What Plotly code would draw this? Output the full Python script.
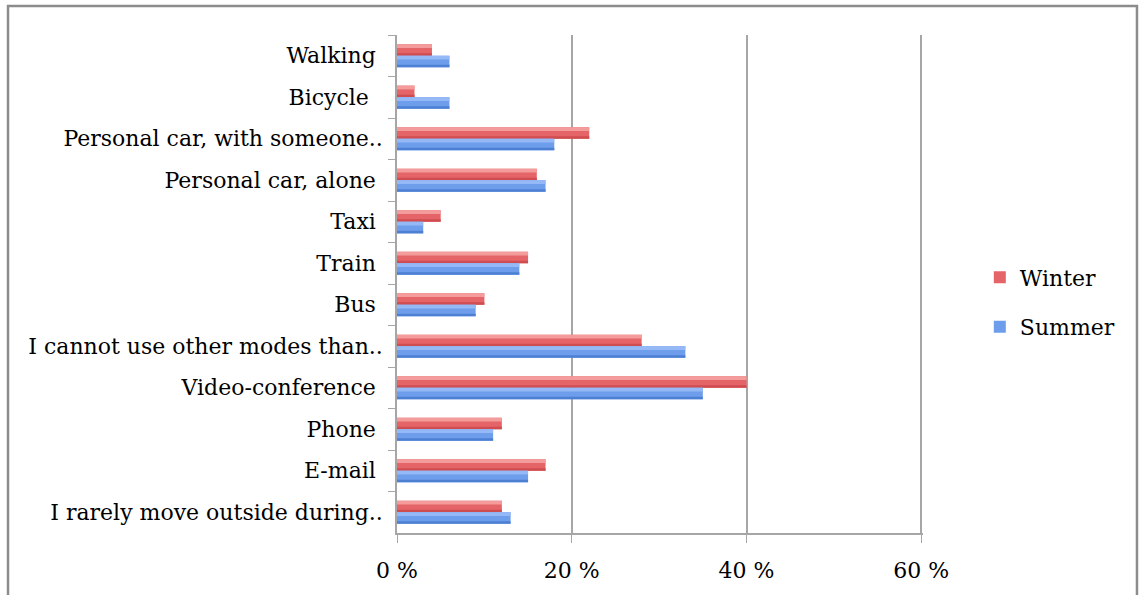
import plotly.graph_objects as go

categories = [
    "Walking ",
    "Bicycle  ",
    "Personal car, with someone..",
    "Personal car, alone ",
    "Taxi ",
    "Train ",
    "Bus ",
    "I cannot use other modes than..",
    "Video-conference ",
    "Phone ",
    "E-mail ",
    "I rarely move outside during..",
]
winter = [4, 2, 22, 16, 5, 15, 10, 28, 40, 12, 17, 12]
summer = [6, 6, 18, 17, 3, 14, 9, 33, 35, 11, 15, 13]
x_ticks = [0, 20, 40, 60]
x_tick_labels = ["0 %", "20 %", "40 %", "60 %"]

FONT = "DejaVu Serif"
FS = 22
BW = 0.28  # bar thickness in category units

fig = go.Figure()

def add_series(name, values, side, main, light, dark):
    off = -BW if side == "top" else 0.0
    # main bar (legend entry)
    fig.add_trace(go.Bar(
        name=name, y=categories, x=values, orientation="h",
        offset=off, width=BW, legendgroup=name,
        marker=dict(color=main, line=dict(width=0)),
    ))
    # lighter upper band (gradient look)
    fig.add_trace(go.Bar(
        name=name, y=categories, x=values, orientation="h",
        offset=off, width=BW * 0.33, legendgroup=name, showlegend=False,
        hoverinfo="skip", marker=dict(color=light, line=dict(width=0)),
    ))
    # darker lower band
    fig.add_trace(go.Bar(
        name=name, y=categories, x=values, orientation="h",
        offset=off + BW * 0.78, width=BW * 0.22, legendgroup=name,
        showlegend=False, hoverinfo="skip",
        marker=dict(color=dark, line=dict(width=0)),
    ))

add_series("Winter", winter, "top", "#E46467", "#F49C9C", "#CF4D50")
add_series("Summer", summer, "bottom", "#6E9DEB", "#94B9F6", "#4D80D3")

fig.update_layout(
    width=1140, height=595,
    margin=dict(l=397, r=217, t=35, b=60),
    paper_bgcolor="white", plot_bgcolor="white",
    barmode="overlay",
    font=dict(family=FONT, size=FS, color="black"),
    showlegend=True,
    legend=dict(
        x=1.108, y=0.463, xanchor="left", yanchor="middle",
        font=dict(family=FONT, size=FS, color="black"),
        tracegroupgap=18, itemwidth=30, bgcolor="rgba(0,0,0,0)",
    ),
    xaxis=dict(
        range=[0, 60.2], tickvals=x_ticks, ticktext=x_tick_labels,
        showgrid=True, gridcolor="#A6A6A6", gridwidth=1.5,
        zeroline=False, showline=True, linecolor="#A6A6A6", linewidth=1.5,
        ticks="outside", ticklen=8, tickcolor="#A6A6A6", tickwidth=1,
        ticklabelstandoff=9,
        tickfont=dict(family=FONT, size=FS, color="black"),
    ),
    yaxis=dict(
        autorange="reversed", showgrid=False, zeroline=False,
        showline=True, linecolor="#A6A6A6", linewidth=1.5,
        ticks="outside", ticklen=7, tickcolor="#A6A6A6", tickwidth=1,
        tickson="boundaries", ticklabelstandoff=8,
        tickfont=dict(family=FONT, size=FS, color="black"),
    ),
    shapes=[dict(
        type="rect", xref="paper", yref="paper",
        x0=-0.7395, x1=1.4068, y0=-0.2, y1=1.058,
        line=dict(color="#8C8C8C", width=2.5), fillcolor="rgba(0,0,0,0)",
        layer="below",
    )],
)

fig.write_html(
    "out.html",
    config={"displayModeBar": False},
    post_script="document.body.style.margin='0';document.body.style.overflow='hidden';",
)
